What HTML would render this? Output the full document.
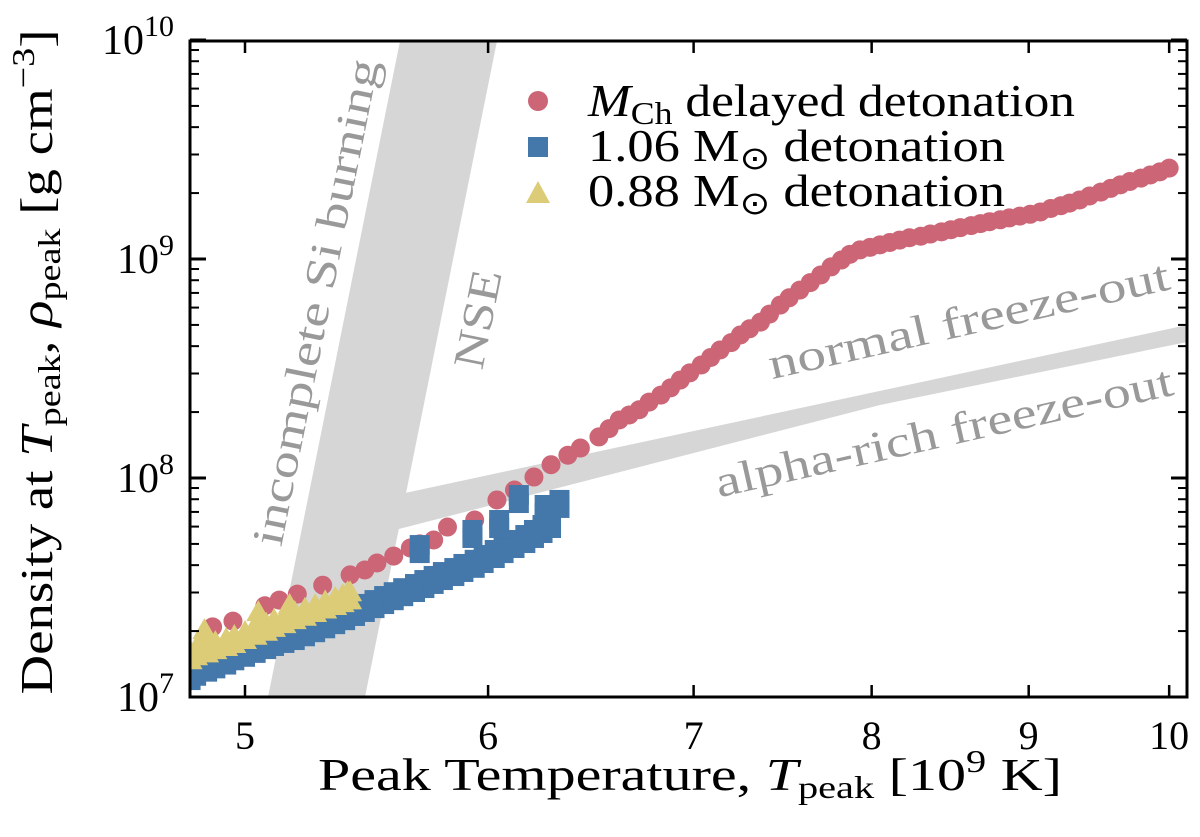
<!DOCTYPE html>
<html><head><meta charset="utf-8"><style>
html,body{margin:0;padding:0;background:#fff;}
svg text{font-family:"Liberation Serif",serif;}
</style></head><body>
<svg id="chart" width="1200" height="832" viewBox="0 0 1200 832" xmlns="http://www.w3.org/2000/svg" font-family="Liberation Serif, serif">
<g id="bands"></g>
<g id="labels"></g>
<g id="marks"></g>
<g id="axes"></g>
<g id="legend"></g>
</svg>
<script>
const xTicks=[5,6,7,8,9,10];
const yTicks=[7,8,9,10];
const mchT=[4.88,4.955,5.075,5.13,5.20,5.30,5.41,5.47,5.52,5.59,5.66,5.70,5.76,5.82,5.94,6.04,6.12,6.21,6.29,6.37,6.43,6.52,6.57,6.62,6.67,6.72,6.77,6.83,6.88,6.93,6.98,7.04,7.09,7.14,7.20,7.25,7.30,7.36,7.41,7.47,7.52,7.58,7.64,7.70,7.76,7.82,7.87,7.93,7.99,8.05,8.11,8.17,8.23,8.30,8.36,8.43,8.49,8.55,8.62,8.68,8.74,8.81,8.87,8.94,9.01,9.08,9.15,9.22,9.28,9.35,9.42,9.50,9.57,9.64,9.71,9.79,9.86,9.93,10.0];
const mchRho=[2.09e7,2.22e7,2.61e7,2.77e7,2.95e7,3.24e7,3.61e7,3.80e7,4.09e7,4.40e7,4.79e7,5.00e7,5.21e7,5.97e7,6.43e7,7.94e7,8.81e7,1.01e8,1.15e8,1.27e8,1.37e8,1.54e8,1.68e8,1.84e8,1.94e8,2.05e8,2.22e8,2.39e8,2.58e8,2.80e8,3.02e8,3.28e8,3.55e8,3.84e8,4.15e8,4.50e8,4.80e8,5.15e8,5.60e8,6.16e8,6.65e8,7.21e8,7.80e8,8.45e8,9.20e8,9.89e8,1.05e9,1.10e9,1.13e9,1.16e9,1.19e9,1.22e9,1.25e9,1.27e9,1.30e9,1.33e9,1.36e9,1.39e9,1.42e9,1.45e9,1.48e9,1.51e9,1.54e9,1.57e9,1.60e9,1.64e9,1.70e9,1.75e9,1.80e9,1.86e9,1.94e9,2.02e9,2.10e9,2.18e9,2.26e9,2.34e9,2.42e9,2.50e9,2.60e9];
const d106T=[4.80,4.82,4.86,4.89,4.93,4.96,5.00,5.04,5.08,5.11,5.15,5.19,5.23,5.27,5.31,5.35,5.39,5.43,5.47,5.51,5.55,5.59,5.63,5.68,5.72,5.76,5.80,5.85,5.89,5.94,5.98,6.03,6.07,6.12,6.17,6.21,6.25,6.29,5.70,5.93,6.05,6.14,6.26,6.33];
const d106Rho=[1.30e7,1.36e7,1.42e7,1.47e7,1.53e7,1.60e7,1.66e7,1.73e7,1.80e7,1.86e7,1.92e7,1.98e7,2.06e7,2.15e7,2.24e7,2.34e7,2.44e7,2.55e7,2.66e7,2.77e7,2.89e7,3.01e7,3.14e7,3.28e7,3.42e7,3.57e7,3.72e7,3.88e7,4.05e7,4.23e7,4.45e7,4.69e7,4.94e7,5.21e7,5.49e7,5.79e7,6.10e7,6.43e7,4.94e7,5.79e7,6.43e7,8.36e7,7.53e7,7.94e7];
const d088T=[4.80,4.82,4.86,4.89,4.93,4.96,5.00,5.04,5.08,5.11,5.15,5.19,5.23,5.27,5.31,5.35,5.38,5.41,4.85,5.05,5.17,5.40];
const d088Rho=[1.60e7,1.67e7,1.72e7,1.78e7,1.84e7,1.90e7,1.98e7,2.07e7,2.16e7,2.25e7,2.34e7,2.44e7,2.53e7,2.63e7,2.73e7,2.83e7,2.92e7,3.01e7,2.02e7,2.44e7,2.63e7,3.01e7];

const L=190,R=1187,T0=41,B=697;
const X=t=>245+3070*(Math.log10(t)-Math.log10(5));
const Y=r=>B-219*(Math.log10(r)-7);
const NS="http://www.w3.org/2000/svg";
const FF="Liberation Serif, serif";
function mk(tag,attrs,parent){const e=document.createElementNS(NS,tag);for(const k in attrs)e.setAttribute(k,attrs[k]);if(tag==='text')e.setAttribute('font-family',FF);parent.appendChild(e);return e;}
const bands=document.getElementById('bands'),labels=document.getElementById('labels'),marks=document.getElementById('marks'),axes=document.getElementById('axes'),legend=document.getElementById('legend');

let b1=mk('polygon',{points:"400,41 497,41 365,697 268,697",fill:"#d6d6d6"},bands);


let b2=mk('polygon',{points:"405,493 1187,325 1187,342 880,405 395,530",fill:"#d6d6d6"},bands);



function lab(txt,x,y,rot,len,name){const t=mk('text',{x:x,y:y,'font-size':44,fill:'#999','text-anchor':'middle',textLength:len,lengthAdjust:'spacingAndGlyphs',transform:`rotate(${rot} ${x} ${y})`},labels);t.textContent=txt;

}
lab('incomplete Si burning',330,305,-78.6,495,'incomplete-si-label');
lab('NSE',492,322,-78.6,100,'nse-label');
lab('normal freeze-out',972,334,-12.7,410,'normal-freeze-out-label');
lab('alpha-rich freeze-out',947,446,-12.7,468,'alpha-rich-freeze-out-label');

const clip=mk('clipPath',{id:'cp'},mk('defs',{},document.getElementById('chart')));
mk('rect',{x:L,y:T0,width:R-L,height:B-T0},clip);
const mg=mk('g',{'clip-path':'url(#cp)'},marks);
mchT.forEach((t,i)=>{const c=mk('circle',{cx:X(t),cy:Y(mchRho[i]),r:9.5,fill:'#cc6677'},mg);

});
d106T.forEach((t,i)=>{const s=20,cx=X(t),cy=Y(d106Rho[i]);const q=mk('rect',{x:cx-s/2,y:cy-s/2,width:s,height:s,fill:'#4477aa'},mg);


const q2=mk('rect',{x:cx-s/2,y:cy-s/2+8,width:s,height:s,fill:'#4477aa'},mg);

});
d088T.forEach((t,i)=>{const cx=X(t),cy=Y(d088Rho[i]);const p=mk('polygon',{points:`${cx},${cy-12} ${cx+12},${cy+9} ${cx-12},${cy+9}`,fill:'#ddcc77'},mg);


const p2=mk('polygon',{points:`${cx},${cy-4} ${cx+12},${cy+17} ${cx-12},${cy+17}`,fill:'#ddcc77'},mg);

});

let fr=mk('rect',{x:L,y:T0,width:R-L,height:B-T0,fill:'none',stroke:'#000','stroke-width':3},axes);


xTicks.forEach(t=>{const x=X(t);
mk('line',{x1:x,y1:B,x2:x,y2:B-12,stroke:'#000','stroke-width':2.5},axes);
mk('line',{x1:x,y1:T0,x2:x,y2:T0+12,stroke:'#000','stroke-width':2.5},axes);
const tx=mk('text',{x:x,y:B+52,'font-size':40,'text-anchor':'middle'},axes);tx.textContent=t;

});
yTicks.forEach(p=>{const y=Y(Math.pow(10,p));
mk('line',{x1:L,y1:y,x2:L+16,y2:y,stroke:'#000','stroke-width':3},axes);
mk('line',{x1:R,y1:y,x2:R-16,y2:y,stroke:'#000','stroke-width':3},axes);
const tx=mk('text',{x:174,y:y+14,'font-size':42,'text-anchor':'end'},axes);tx.innerHTML=`10<tspan dy="-18" font-size="30">${p}</tspan>`;


if(p<10)for(let m=2;m<10;m++){const yy=Y(m*Math.pow(10,p));
mk('line',{x1:L,y1:yy,x2:L+9,y2:yy,stroke:'#000','stroke-width':2},axes);
mk('line',{x1:R,y1:yy,x2:R-9,y2:yy,stroke:'#000','stroke-width':2},axes);}});
let xt=mk('text',{x:690,y:790,'font-size':46,'text-anchor':'middle',textLength:744,lengthAdjust:'spacingAndGlyphs'},axes);
xt.innerHTML='Peak Temperature, <tspan font-style="italic">T</tspan><tspan dy="8" font-size="32">peak</tspan><tspan dy="-8"> [10</tspan><tspan dy="-18" font-size="32">9</tspan><tspan dy="18"> K]</tspan>';


let yt=mk('text',{x:52,y:362,'font-size':46,'text-anchor':'middle',textLength:665,lengthAdjust:'spacingAndGlyphs',transform:'rotate(-90 52 362)'},axes);
yt.innerHTML='Density at <tspan font-style="italic">T</tspan><tspan dy="8" font-size="32">peak</tspan><tspan dy="-8">, </tspan><tspan font-style="italic">ρ</tspan><tspan dy="8" font-size="32">peak</tspan><tspan dy="-8"> [g cm</tspan><tspan dy="-18" font-size="32">−3</tspan><tspan dy="18">]</tspan>';



let lc=mk('circle',{cx:538,cy:101,r:10,fill:'#cc6677'},legend);


let ls=mk('rect',{x:528,y:137,width:20,height:20,fill:'#4477aa'},legend);


let lt=mk('polygon',{points:'538,181 550,203 526,203',fill:'#ddcc77'},legend);


let t1=mk('text',{x:588,y:116,'font-size':46,textLength:487,lengthAdjust:'spacingAndGlyphs'},legend);
t1.innerHTML='<tspan font-style="italic">M</tspan><tspan dy="8" font-size="32">Ch</tspan><tspan dy="-8"> delayed detonation</tspan>';


let t2=mk('text',{x:588,y:161,'font-size':46,textLength:417,lengthAdjust:'spacingAndGlyphs'},legend);
t2.innerHTML='1.06 M<tspan dy="8" font-size="32">⊙</tspan><tspan dy="-8"> detonation</tspan>';


let t3=mk('text',{x:588,y:206,'font-size':46,textLength:417,lengthAdjust:'spacingAndGlyphs'},legend);
t3.innerHTML='0.88 M<tspan dy="8" font-size="32">⊙</tspan><tspan dy="-8"> detonation</tspan>';


</script>
</body></html>
